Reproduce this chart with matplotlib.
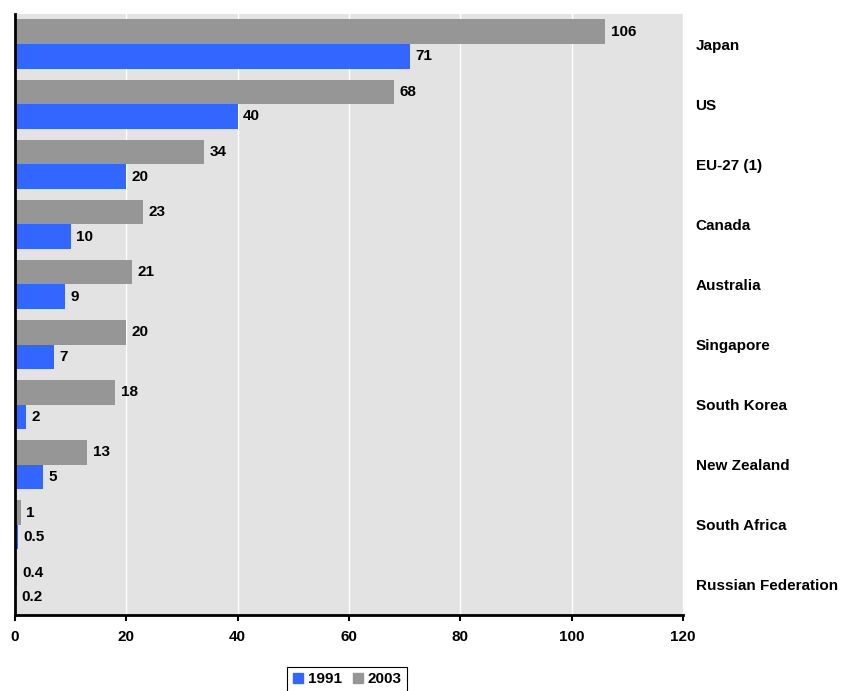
import matplotlib
matplotlib.use("Agg")
import matplotlib.pyplot as plt
from matplotlib.patches import Patch
import numpy as np

plt.rcParams['font.family'] = ['Liberation Sans', 'DejaVu Sans']

categories = ["Japan", "US", "EU-27 (1)", "Canada", "Australia", "Singapore",
              "South Korea", "New Zealand", "South Africa", "Russian Federation"]
values_1991 = [71, 40, 20, 10, 9, 7, 2, 5, 0.5, 0.2]
values_2003 = [106, 68, 34, 23, 21, 20, 18, 13, 1, 0.4]
labels_1991 = ["71", "40", "20", "10", "9", "7", "2", "5", "0.5", "0.2"]
labels_2003 = ["106", "68", "34", "23", "21", "20", "18", "13", "1", "0.4"]
xticks = [0, 20, 40, 60, 80, 100, 120]

c1991 = "#3366ff"
c2003 = "#969696"
fs = 11

fig = plt.figure(figsize=(8.41, 6.91), dpi=100)
ax = fig.add_axes([15/841, 1-615/691, (683-15)/841, (615-14)/691])
ax.set_facecolor("#e3e3e3")

y = np.arange(len(categories))
h = 0.41
ax.barh(y - h/2, values_2003, height=h, color=c2003, zorder=2)
ax.barh(y + h/2, values_1991, height=h, color=c1991, zorder=2)

for yi, v, t in zip(y, values_2003, labels_2003):
    ax.text(v + 1, yi - h/2, t, va='center', ha='left', fontsize=fs, fontweight='bold')
for yi, v, t in zip(y, values_1991, labels_1991):
    ax.text(v + 1, yi + h/2, t, va='center', ha='left', fontsize=fs, fontweight='bold')

ax.set_ylim(len(categories) - 0.5, -0.5)
ax.set_xlim(0, 120)
ax.set_xticks(xticks)
ax.set_xticklabels([str(t) for t in xticks], fontsize=fs, fontweight='bold')
ax.tick_params(axis='x', direction='out', length=4, width=1.5, pad=7)
ax.set_yticks(y)
ax.set_yticklabels(categories, fontsize=fs, fontweight='bold')
ax.yaxis.tick_right()
ax.tick_params(axis='y', length=0, pad=9)
ax.xaxis.grid(True, color='white', linewidth=1, zorder=1)
ax.set_axisbelow(True)

for s in ['top', 'right']:
    ax.spines[s].set_visible(False)
ax.spines['left'].set_linewidth(2)
ax.spines['bottom'].set_linewidth(2)

handles = [Patch(color=c1991, label="1991"), Patch(color=c2003, label="2003")]
leg = fig.legend(handles=handles, loc='upper center', bbox_to_anchor=(0.413, 1-667/691),
                 ncol=2, fancybox=False, framealpha=1, edgecolor='black',
                 prop={'size': fs, 'weight': 'bold'}, handlelength=0.7, handleheight=0.7,
                 handletextpad=0.3, columnspacing=0.7, borderpad=0.35, borderaxespad=0)
leg.get_frame().set_linewidth(0.8)

fig.savefig("out.png", dpi=100)
